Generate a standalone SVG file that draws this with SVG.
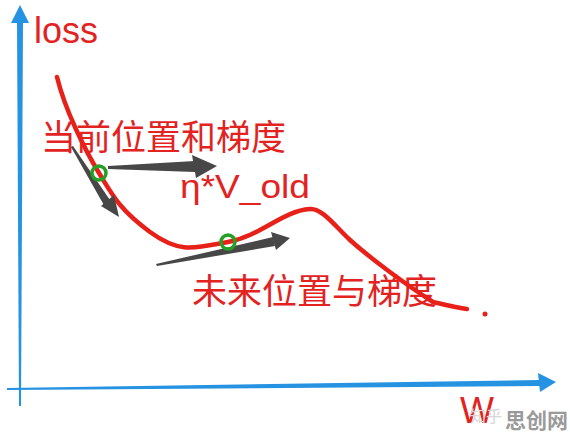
<svg xmlns="http://www.w3.org/2000/svg" width="570" height="438" viewBox="0 0 570 438">
<style>
.axis{fill:#2592e2}
.red{fill:#e2231f;font-family:"Liberation Sans","Noto Sans CJK SC",sans-serif}
.cjk{fill:#e2231f;font-family:"Noto Sans CJK SC","Liberation Sans",sans-serif;font-size:35px}
.gray{fill:#474747}
.ring{fill:none;stroke:#25a025;stroke-width:3.5}
</style>
<rect width="570" height="438" fill="#ffffff"/>
<g id="axes">
<polygon class="axis" points="17,20 23,20 21,406 19,406"/>
<polygon class="axis" points="11,23 20,5 29,23"/>
<polygon class="axis" points="7,388 7,390 540,386 540,380"/>
<polygon class="axis" points="538,373 556,382 540,392"/>
</g>
<g id="labels">
<text class="red" x="34" y="43" font-size="36">loss</text>
<text class="red" x="460" y="423" font-size="36">W</text>
<text class="cjk" x="41" y="150">当前位置和梯度</text>
<text class="red" x="180" y="198" font-size="34" textLength="130" lengthAdjust="spacingAndGlyphs">η*V_old</text>
<text class="cjk" x="192" y="304">未来位置与梯度</text>
</g>
<g id="curve">
<path d="M57,77 C65,110 85,150 99,173 S120,210 150,232 S195,248 228,242 S282,211 310,209 C322,208 335,226 350,240 C370,258 405,284 433,302 C450,306 458,308 467,309" fill="none" stroke="#e8201a" stroke-width="4.5" stroke-linecap="round" stroke-linejoin="round"/>
<circle cx="485" cy="314" r="2.5" fill="#e8201a"/>
</g>
<g id="connectors">
<polygon class="gray" points="108,166 108,169 195,172 195,161"/>
<polygon class="gray" points="192,155 217,166 196,178"/>
<polygon class="gray" points="71,147 73,146 112,203 105,207"/>
<polygon class="gray" points="114,195 119,217 101,206"/>
<polygon class="gray" points="156,264 157,266 275,246 273,237"/>
<polygon class="gray" points="271,232 290,238 276,250"/>
</g>
<g id="point-current"><circle class="ring" cx="99" cy="173" r="7"/></g>
<g id="point-future"><circle class="ring" cx="228" cy="242" r="7"/></g>
<g id="watermark">
<text x="470" y="422" font-size="16" fill="#d6d6d6" font-family="Noto Sans CJK SC,sans-serif">知乎</text>
<text x="505" y="428" font-size="21" font-weight="bold" fill="#9a9a9a" font-family="Noto Sans CJK SC,sans-serif">思创网</text>
</g>
</svg>
